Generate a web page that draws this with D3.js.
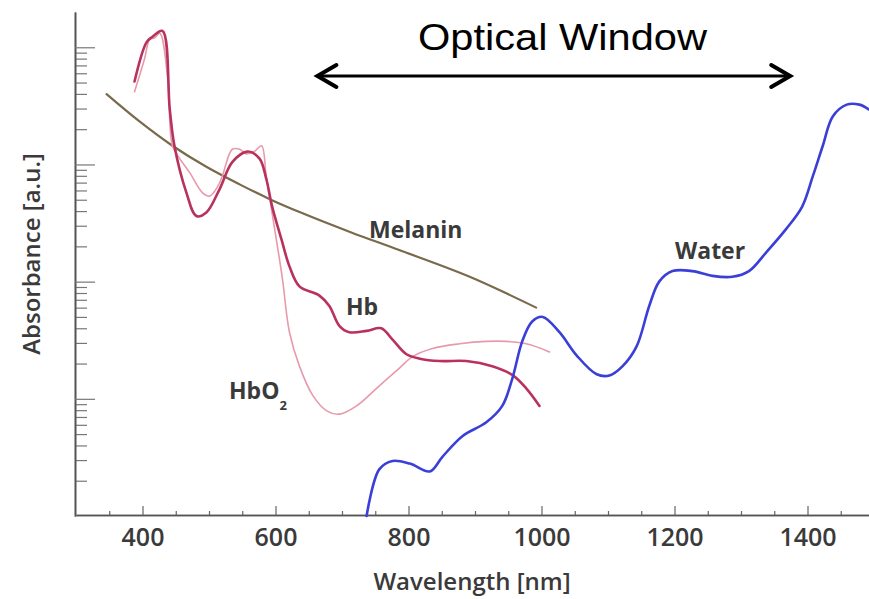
<!DOCTYPE html>
<html>
<head>
<meta charset="utf-8">
<script src="https://cdn.jsdelivr.net/npm/d3@7"></script>
<style>
  html, body { margin: 0; padding: 0; background: #fff; }
  svg { display: block; }
</style>
</head>
<body>
<svg id="chart" width="869" height="599"></svg>
<script>
// ---------------- data (wavelength in nm, absorbance in a.u., log scale) ----------------
const hbNm  = [388, 406, 415, 430, 441, 448, 466, 481, 496, 516, 535, 558, 576, 586, 595, 609, 621, 636, 666, 681, 696, 711, 737, 759, 776, 797, 817, 847, 887, 926, 956, 977, 997];
const hbAbs = [5100, 11000, 12300, 13800, 2950, 1445, 575, 363, 389, 617, 1047, 1288, 1122, 759, 437, 229, 135, 91, 76, 62, 42, 37, 38, 40, 32, 24, 22, 21, 21, 19, 16, 12.3, 8.7];

const hbo2Nm  = [388, 403, 411, 418, 426, 438, 445, 456, 471, 490, 501, 513, 520, 535, 546, 556, 568, 579, 586, 595, 606, 611, 621, 636, 656, 677, 696, 722, 752, 786, 806, 836, 877, 917, 947, 977, 1012];
const hbo2Abs = [4170, 7940, 11750, 12000, 13200, 5370, 1445, 1122, 851, 575, 537, 646, 794, 1349, 1349, 1230, 1288, 1445, 794, 380, 155, 100, 37, 19, 10.7, 7.9, 7.4, 8.7, 12.3, 18.2, 22.9, 26.9, 29.5, 30.9, 30.9, 29.5, 25.1];

const melaninNm  = [346, 395, 445, 496, 546, 593, 638, 714, 786, 892, 992];
const melaninAbs = [3980, 2340, 1445, 955, 676, 501, 389, 263, 186, 110, 60];

const waterNm  = [737, 756, 776, 802, 832, 851, 881, 917, 941, 956, 971, 986, 1002, 1027, 1053, 1083, 1102, 1122, 1143, 1162, 1177, 1197, 1227, 1257, 1287, 1312, 1338, 1368, 1392, 1408, 1423, 1438, 1459, 1478, 1492];
const waterAbs = [1.0, 2.5, 2.95, 2.8, 2.4, 3.2, 4.8, 6.3, 8.7, 14.8, 30.9, 45.7, 50, 37, 23.4, 16.2, 15.8, 19, 28, 62, 100, 123, 123, 112, 110, 123, 178, 282, 437, 794, 1445, 2570, 3240, 3240, 2950];

const xTickLabels = [400, 600, 800, 1000, 1200, 1400];
const yMajorTicks = [10, 100, 1000, 10000];
const opticalWindow = [660, 1377];
const titleText = "Optical Window";

// ---------------- scales ----------------
const svg = d3.select("#chart");
svg.append("rect").attr("width", 869).attr("height", 599).attr("fill", "#fff");

const x = d3.scaleLinear().domain([300, 1500]).range([76, 874]);
const y = d3.scaleLog().domain([1, 20000]).range([516, 12]);

const font = "'Open Sans', 'Liberation Sans', sans-serif";

// ---------------- axes ----------------
const yMinor = [];
[1, 10, 100, 1000].forEach(d => { for (let k = 2; k <= 9; k++) yMinor.push(k * d); });

const yAxisMinor = svg.append("g").attr("transform", "translate(75,0)")
  .call(d3.axisRight(y).tickValues(yMinor).tickSize(12).tickSizeOuter(0).tickFormat(""));
const yAxisMajor = svg.append("g").attr("transform", "translate(75,0)")
  .call(d3.axisRight(y).tickValues(yMajorTicks).tickSize(20).tickSizeOuter(0).tickFormat(""));
[yAxisMinor, yAxisMajor].forEach(g => {
  g.select(".domain").attr("stroke", "#555").attr("stroke-width", 1.6);
  g.selectAll(".tick line").attr("stroke", "#777").attr("stroke-width", 1.2);
});

const xMinor = d3.range(350, 1500, 50).filter(v => xTickLabels.indexOf(v) < 0);
const xAxisMinor = svg.append("g").attr("transform", "translate(0,515)")
  .call(d3.axisBottom(x).tickValues(xMinor).tickSize(-4).tickSizeOuter(0).tickFormat(""));
const xAxisMajor = svg.append("g").attr("transform", "translate(0,515)")
  .call(d3.axisBottom(x).tickValues(xTickLabels).tickSize(-9).tickSizeOuter(0).tickPadding(13).tickFormat(d3.format("d")));
[xAxisMinor, xAxisMajor].forEach(g => {
  g.select(".domain").attr("stroke", "#555").attr("stroke-width", 1.6);
  g.selectAll(".tick line").attr("stroke", "#666").attr("stroke-width", 1.2);
});
xAxisMajor.selectAll(".tick text")
  .attr("font-family", font).attr("font-size", 25).attr("font-weight", 600).attr("fill", "#3a3a3a");

// axis titles
svg.append("text").attr("x", 472).attr("y", 590).attr("text-anchor", "middle")
  .attr("font-family", font).attr("font-size", 24).attr("font-weight", 600).attr("fill", "#3a3a3a")
  .text("Wavelength [nm]");
svg.append("text").attr("transform", "translate(40,254) rotate(-90)").attr("text-anchor", "middle")
  .attr("font-family", font).attr("font-size", 24).attr("font-weight", 600).attr("fill", "#3a3a3a")
  .text("Absorbance [a.u.]");

// ---------------- curves ----------------
const line = d3.line().x(d => x(d[0])).y(d => y(d[1])).curve(d3.curveCatmullRom.alpha(0.5));
const zip = (a, b) => a.map((v, i) => [v, b[i]]);

const series = [
  { nm: melaninNm, v: melaninAbs, color: "#786a4a", w: 2.2 },
  { nm: hbo2Nm, v: hbo2Abs, color: "#e79aab", w: 1.6 },
  { nm: hbNm, v: hbAbs, color: "#b8325e", w: 2.6 },
  { nm: waterNm, v: waterAbs, color: "#3a3fd8", w: 2.6 }
];
series.forEach(s => {
  svg.append("path").datum(zip(s.nm, s.v)).attr("d", line)
    .attr("fill", "none").attr("stroke", s.color).attr("stroke-width", s.w)
    .attr("stroke-linejoin", "round").attr("stroke-linecap", "round");
});

// curve labels
const lab = (tx, ty, t) => svg.append("text").attr("x", tx).attr("y", ty)
  .attr("font-family", font).attr("font-size", 23).attr("font-weight", 700).attr("fill", "#3a3a3a").text(t);
lab(369, 238, "Melanin");
lab(346, 315, "Hb");
lab(675, 259, "Water");
const hbo2 = svg.append("text").attr("x", 229).attr("y", 399)
  .attr("font-family", font).attr("font-size", 23).attr("font-weight", 700).attr("fill", "#3a3a3a");
hbo2.append("tspan").text("HbO");
hbo2.append("tspan").attr("font-size", 13).attr("dy", 11).text("2");

// ---------------- optical window annotation ----------------
const ay = 76;
const x0 = x(opticalWindow[0]), x1 = x(opticalWindow[1]);
svg.append("line").attr("x1", x0 + 2).attr("x2", x1 - 2).attr("y1", ay).attr("y2", ay)
  .attr("stroke", "#000").attr("stroke-width", 3);
svg.append("path").attr("d", `M${x0 + 21},${ay - 11} L${x0 + 2},${ay} L${x0 + 21},${ay + 11}`)
  .attr("fill", "none").attr("stroke", "#000").attr("stroke-width", 4).attr("stroke-linejoin", "miter").attr("stroke-linecap", "round");
svg.append("path").attr("d", `M${x1 - 21},${ay - 11} L${x1 - 2},${ay} L${x1 - 21},${ay + 11}`)
  .attr("fill", "none").attr("stroke", "#000").attr("stroke-width", 4).attr("stroke-linejoin", "miter").attr("stroke-linecap", "round");

svg.append("text").attr("x", 418).attr("y", 50)
  .attr("font-family", "'Liberation Sans', Arial, sans-serif").attr("font-size", 37).attr("fill", "#000")
  .attr("textLength", 289).attr("lengthAdjust", "spacingAndGlyphs")
  .text(titleText);
</script>
</body>
</html>
